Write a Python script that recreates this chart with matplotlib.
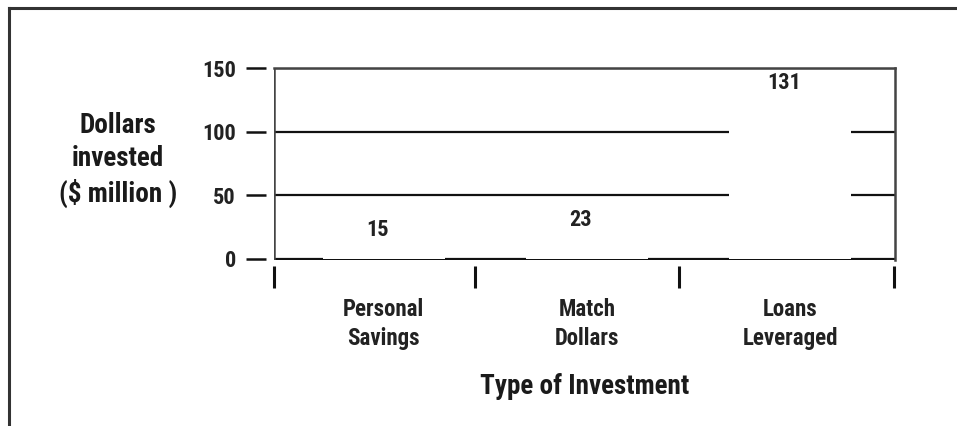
import matplotlib
matplotlib.use('Agg')
import matplotlib.pyplot as plt
from matplotlib import font_manager
import numpy as np

# 找一个窄体粗字体
names = {f.name for f in font_manager.fontManager.ttflist}
font = 'DejaVu Sans'
for cand in ['Liberation Sans Narrow', 'DejaVu Sans Condensed', 'Roboto Condensed', 'Liberation Sans']:
    if cand in names:
        font = cand
        break
plt.rcParams['font.family'] = [font, 'DejaVu Sans']

# 数据
categories = ['Personal\nSavings', 'Match\nDollars', 'Loans\nLeveraged']
values = [15, 23, 131]
yticks = [0, 50, 100, 150]

fig = plt.figure(figsize=(9.57, 4.26), dpi=100)
ax = fig.add_axes([274 / 957, 1 - 260 / 426, (895 - 274) / 957, (260 - 68) / 426])

x = np.arange(len(categories))
bars = ax.bar(x, values, width=0.6, color='white', edgecolor='none', zorder=2)

ax.set_xlim(-0.54, 2.515)
ax.set_ylim(-1.0, 150)
ax.set_axisbelow(True)
ax.yaxis.grid(True, color='#111111', linewidth=1.6)

# 数值标注
for xi, v in zip(x, values):
    ax.annotate(str(v), (xi, v), xytext=(-4.5, -1), textcoords='offset points',
                ha='center', va='bottom', fontsize=16, fontweight='bold', color='#222222')

# 边框
for s in ['top', 'right']:
    ax.spines[s].set_color('#444444')
    ax.spines[s].set_linewidth(1.8)
ax.spines['left'].set_visible(False)
ax.spines['bottom'].set_visible(False)
ax.spines['left'].set_position(('outward', 6))
ax.spines['bottom'].set_position(('outward', 4))
ax.axvline(ax.get_xlim()[0], color='#444444', linewidth=1.8, zorder=3)

# y 轴刻度
ax.set_yticks(yticks)
ax.tick_params(axis='y', direction='out', length=14.5, width=1.8, color='#111111',
               pad=7, labelsize=16, labelcolor='#222222')
for lab in ax.get_yticklabels():
    lab.set_fontweight('bold')

# x 轴分隔刻度 + 类别标签
ax.set_xticks([-0.54, 0.45, 1.45, 2.51])
ax.set_xticklabels([])
ax.tick_params(axis='x', which='major', direction='out', length=16, width=2.2, color='#111111')
ax.set_xticks(x, minor=True)
ax.set_xticklabels(categories, minor=True, fontsize=16.5, fontweight='bold',
                   color='#222222', linespacing=1.35)
ax.tick_params(axis='x', which='minor', length=0, pad=23)

ax.set_xlabel('Type of Investment', fontsize=19.5, fontweight='heavy', color='#1a1a1a', labelpad=17)
fig.text(118 / 957, 1 - 160 / 426, 'Dollars\ninvested\n($ million )', ha='center', va='center',
         fontsize=19.5, fontweight='heavy', color='#1a1a1a', linespacing=1.3)

# 外框
fig.add_artist(plt.Line2D([9 / 957, 1.0], [1 - 8 / 426] * 2, color='#333333', linewidth=2.2))
fig.add_artist(plt.Line2D([9 / 957] * 2, [0, 1 - 8 / 426], color='#333333', linewidth=2.2))

fig.savefig('out.png', dpi=100)
